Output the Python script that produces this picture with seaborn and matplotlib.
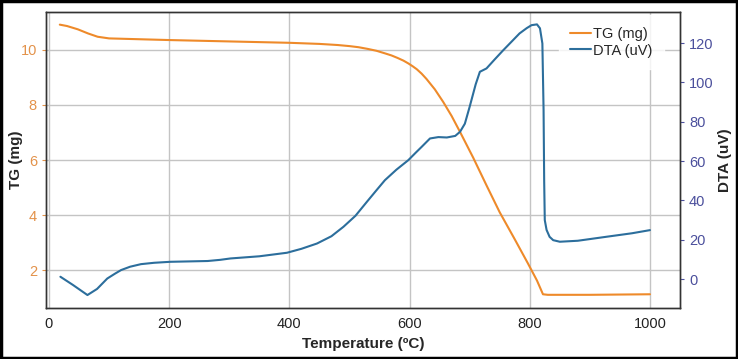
import numpy as np
import pandas as pd
import matplotlib
matplotlib.use("Agg")
import matplotlib.pyplot as plt
import seaborn as sns
from matplotlib.patches import Rectangle

# ─────────────────────────────────────────
# Data
# ─────────────────────────────────────────
tg_temp = [18, 30, 48, 65, 81, 100, 150, 200, 300, 400, 450, 480, 500, 515,
           530, 545, 560, 570, 580, 590, 598, 605, 612, 620, 628, 642, 656,
           670, 684, 706, 728, 750, 775, 797, 812, 822, 830, 900, 1000]
tg_mass = [10.92, 10.87, 10.75, 10.6, 10.48, 10.42, 10.39, 10.36, 10.31, 10.26,
           10.22, 10.18, 10.14, 10.1, 10.04, 9.97, 9.87, 9.8, 9.71, 9.61, 9.51,
           9.41, 9.3, 9.14, 8.95, 8.57, 8.11, 7.6, 7.02, 6.08, 5.08, 4.1, 3.12,
           2.24, 1.62, 1.12, 1.1, 1.1, 1.12]

dta_temp = [19, 40, 64, 80, 97, 110, 120, 135, 153, 175, 202, 264, 285, 302,
            350, 396, 420, 446, 470, 490, 510, 529, 545, 559, 578, 598, 610,
            620, 634, 648, 662, 676, 684, 692, 700, 710, 717, 728, 742, 756,
            770, 783, 795, 803, 812, 817, 821, 823, 824, 825, 828, 833, 839,
            850, 880, 927, 970, 1000]
dta_uv = [1.2, -3, -8.1, -5, 0.3, 2.8, 4.6, 6.3, 7.6, 8.3, 8.8, 9.2, 9.8, 10.5,
          11.6, 13.4, 15.4, 18.1, 21.8, 26.6, 32.2, 39.3, 45.2, 50.3, 55.6,
          60.5, 64.2, 67.2, 71.5, 72.2, 72, 72.8, 74.9, 79, 87.6, 99, 105.4,
          107.1, 111.8, 116.4, 120.8, 124.9, 127.6, 129.1, 129.5, 127.5, 119.8,
          86, 50, 30, 25, 21.5, 19.8, 19, 19.5, 21.5, 23.3, 24.9]

tg = pd.DataFrame({"Temperature": tg_temp, "TG": tg_mass})
dta = pd.DataFrame({"Temperature": dta_temp, "DTA": dta_uv})

orange = "#EE8A2A"
blue = "#2C6E9C"

# ─────────────────────────────────────────
# Plot
# ─────────────────────────────────────────
sns.set_style("white")
plt.rcParams["font.family"] = ["Liberation Sans", "DejaVu Sans"]

fig = plt.figure(figsize=(7.38, 3.59), dpi=100)
ax1 = fig.add_axes([0.0623, 0.142, 0.8591, 0.8246])
ax2 = ax1.twinx()

sns.lineplot(data=tg, x="Temperature", y="TG", ax=ax1, color=orange,
             linewidth=1.5, label="TG (mg)", legend=False, sort=False)
sns.lineplot(data=dta, x="Temperature", y="DTA", ax=ax2, color=blue,
             linewidth=1.5, label="DTA (uV)", legend=False, sort=False)

ax1.set_xlim(-5, 1050)
ax1.set_ylim(0.62, 11.38)
ax2.set_ylim(-14.7, 135.8)

ax1.set_xticks([0, 200, 400, 600, 800, 1000])
ax1.set_yticks([2, 4, 6, 8, 10])
ax2.set_yticks([0, 20, 40, 60, 80, 100, 120])

ax1.grid(True, color="#c4c4c4", linewidth=1)
ax2.grid(False)

ax1.set_xlabel("Temperature (ºC)", fontsize=11, fontweight="bold", labelpad=4)
ax1.set_ylabel("TG (mg)", fontsize=11, fontweight="bold", labelpad=-2)
ax2.set_ylabel("DTA (uV)", fontsize=11, fontweight="bold", labelpad=3)

ax1.tick_params(axis="x", colors="#222222", labelsize=10.5, length=3, width=0.8)
ax1.tick_params(axis="y", colors="#E3924A", labelsize=10.5, length=3, width=0.8)
ax2.tick_params(axis="y", colors="#4B4F9C", labelsize=10.5, length=3, width=0.8)

for ax in (ax1, ax2):
    for s in ax.spines.values():
        s.set_color("#333333")
        s.set_linewidth(1)

h1, l1 = ax1.get_legend_handles_labels()
h2, l2 = ax2.get_legend_handles_labels()
leg = ax2.legend(h1 + h2, l1 + l2, loc="upper right", bbox_to_anchor=(0.975, 0.99),
                 frameon=True, fontsize=10.5, handlelength=1.4, handletextpad=0.15,
                 borderpad=0.8, labelspacing=0.2, borderaxespad=0.0)
leg.get_frame().set_facecolor("white")
leg.get_frame().set_edgecolor("white")

# black border around the whole figure
fig.patches.append(Rectangle((0.002, 0.003), 0.996, 0.994, transform=fig.transFigure,
                             fill=False, edgecolor="black", linewidth=2.5))

plt.savefig("out.png", dpi=100)
